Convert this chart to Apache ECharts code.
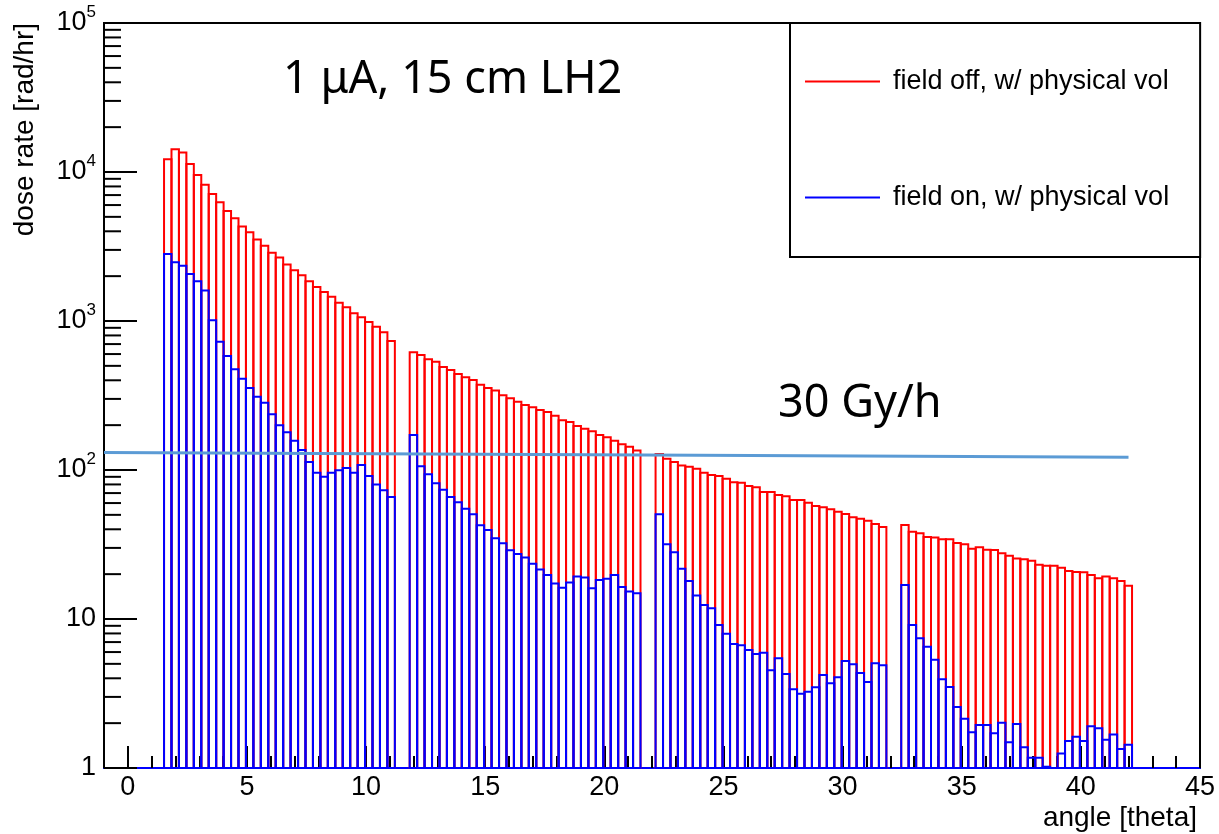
<!DOCTYPE html>
<html>
<head>
<meta charset="utf-8">
<script src="https://cdn.jsdelivr.net/npm/echarts@6/dist/echarts.min.js"></script>
<style>html,body{margin:0;padding:0;background:#fff}#chart{width:1219px;height:834px}</style>
</head>
<body>
<div id="chart"></div>
<script>
// ---- data ----
const binWidth = 0.3125;                       // histogram bin width [deg]
const groupStarts = [1.52, 11.83, 22.15, 32.46]; // first bin lower edge of each angular block

const fieldOff1 = [12200,14200,13500,11300,9540,8220,7120,6260,5470,4890,4300,3940,3530,3200,2870,2670,2390,2190,2025,1845,1690,1565,1456,1327,1236,1127,1059,985,916,840,734];
const fieldOff2 = [617,591,553,533,491,469,441,419,402,374,355,341,317,303,287,273,264,253,245,231,216,210,197,189,182,172,166,157,149,143,135];
const fieldOff3 = [128,119,113,107,105,102,96,92.5,91.2,87.5,82.7,82.2,78.1,76.6,71.2,71.2,68.0,66.6,62.9,62.9,60.4,57.3,56.2,54.5,52.5,50.7,48.1,47.1,45.7,43.4,41.4];
const fieldOff4 = [42.7,38.5,37.6,35.5,35.3,34.3,34.3,32.4,31.7,29.6,30.3,29.2,29.0,27.6,26.6,25.5,25.2,24.6,23.1,22.8,22.8,22.1,21.0,20.7,20.6,19.7,18.8,19.3,18.8,18.0,16.7];

const fieldOn1 = [2820,2480,2350,2070,1845,1600,1010,726,582,474,410,355,310,283,237,200,179,157,136,113,96,90,96,99.5,103,96,108,91,80,73,66];
const fieldOn2 = [172,106,93.6,81.4,73.8,65.9,60.7,55.0,50.4,42.5,39.6,34.8,32.2,28.9,27.3,25.9,23.5,21.5,19.7,17.3,16.2,17.6,19.3,19.0,16.1,18.3,18.6,19.7,16.4,15.3,14.9];
const fieldOn3 = [50.4,31.7,28.0,21.7,18.0,14.4,12.4,11.8,9.12,7.97,6.79,6.66,6.19,5.82,5.94,4.53,5.45,4.27,3.38,3.15,3.25,3.48,4.21,3.70,4.06,5.23,4.97,4.34,3.78,5.04,4.89];
const fieldOn4 = [16.9,9.12,7.42,6.52,5.33,3.94,3.50,2.57,2.14,1.74,1.94,1.94,1.71,2.01,1.49,1.97,1.38,1.17,1.17,1.02,1,1.25,1.52,1.62,1.52,1.91,1.85,1.55,1.68,1.34,1.43];

const limitLineX = [-1, 42];      // 30 Gy/h reference line
const limitLineY = [131, 122];

const xMajorTicks = [0,5,10,15,20,25,30,35,40,45];
const yDecades = [1,10,100,1000,10000];
const yMinorMultipliers = [2,3,4,5,6,7,8,9];

const nameOff = 'field off, w/ physical vol';
const nameOn = 'field on, w/ physical vol';

// ---- build ----
const FONT = 'Liberation Sans';
function histData(groups) {
  const out = [];
  groups.forEach((vals, g) => vals.forEach((v, i) => {
    const x0 = groupStarts[g] + i * binWidth;
    out.push([x0, x0 + binWidth, v]);
  }));
  return out;
}
function histSeries(name, color, groups, z) {
  return {
    type: 'custom', name: name, z: z, silent: true,
    data: histData(groups),
    encode: { x: [0, 1], y: 2 },
    itemStyle: { color: color },
    renderItem: function (params, api) {
      const a = api.coord([api.value(0), api.value(2)]);
      const b = api.coord([api.value(1), 1]);
      return { type: 'rect',
        shape: { x: a[0], y: a[1], width: b[0] - a[0], height: b[1] - a[1] },
        style: { fill: 'none', stroke: color, lineWidth: 2 } };
    }
  };
}
const minorTicks = [];
yDecades.forEach(d => yMinorMultipliers.forEach(m => minorTicks.push([-1, d * m])));

const chart = echarts.init(document.getElementById('chart'), null, { renderer: 'canvas' });
chart.setOption({
  animation: false,
  backgroundColor: '#fff',
  grid: { left: 104, right: 19, top: 23, bottom: 66, show: true, borderColor: '#000', borderWidth: 2,
          backgroundColor: 'transparent', containLabel: false, outerBoundsMode: 'none' },
  xAxis: [
    { type: 'value', position: 'bottom', min: -1, max: 45, interval: 1,
      axisLine: { show: true, onZero: false, lineStyle: { color: '#0000ff', width: 2 } },
      axisTick: { show: true, inside: true, length: 12, lineStyle: { color: '#000', width: 2 } },
      axisLabel: { fontSize: 27, fontFamily: FONT, color: '#000', margin: 6,
        formatter: v => (xMajorTicks.indexOf(v) >= 0 ? String(v) : '') },
      splitLine: { show: false },
      name: 'angle [theta]', nameLocation: 'end', nameGap: -3, nameMoveOverlap: false,
      nameTextStyle: { fontSize: 28, fontFamily: FONT, color: '#000', align: 'right', verticalAlign: 'top', padding: [36, 0, 0, 0] }
    },
    { type: 'value', position: 'bottom', min: -1, max: 45,
      axisLine: { show: false, onZero: false },
      axisTick: { show: true, inside: true, length: 22, customValues: xMajorTicks, lineStyle: { color: '#000', width: 2 } },
      axisLabel: { show: false }, splitLine: { show: false }
    }
  ],
  yAxis: {
    type: 'log', logBase: 10, min: 1, max: 100000, position: 'left',
    axisLine: { show: true, onZero: false, lineStyle: { color: '#000', width: 2 } },
    axisTick: { show: true, inside: true, length: 33, lineStyle: { color: '#000', width: 2 } },
    splitLine: { show: false },
    axisLabel: { fontSize: 27, fontFamily: FONT, color: '#000', margin: 8,
      formatter: function (v) {
        const e = Math.round(Math.log10(v));
        if (e <= 1) return '{b|' + Math.round(v) + '}';
        return '{b|10}{s|' + e + '}';
      },
      rich: {
        b: { fontSize: 27, fontFamily: FONT, color: '#000', verticalAlign: 'bottom', lineHeight: 27 },
        s: { fontSize: 17, fontFamily: FONT, color: '#000', verticalAlign: 'bottom', lineHeight: 17, padding: [0, 0, 16, 0] }
      }
    },
    name: 'dose rate [rad/hr]', nameLocation: 'end', nameGap: 0, nameRotate: 90, nameMoveOverlap: false,
    nameTextStyle: { fontSize: 28, fontFamily: FONT, color: '#000', align: 'right', verticalAlign: 'bottom', padding: [0, 0, 65, 0] }
  },
  legend: {
    orient: 'vertical', left: 790, top: 23, selectedMode: false,
    data: [ { name: nameOff, icon: 'rect', itemStyle: { color: '#ff0000' } },
            { name: nameOn, icon: 'rect', itemStyle: { color: '#0000ff' } } ],
    itemWidth: 75, itemHeight: 2, itemGap: 89,
    padding: [45, 31, 46, 15],
    backgroundColor: '#fff', borderColor: '#000', borderWidth: 2, borderRadius: 0,
    textStyle: { fontSize: 27, fontFamily: FONT, color: '#000', padding: [0, 0, 0, 8] }
  },
  graphic: [
    { type: 'text', x: 283, y: 80, z: 10,
      style: { text: '1 μA, 15 cm LH2', font: '45px "Noto Sans"', fill: '#000', verticalAlign: 'middle' } },
    { type: 'text', x: 778, y: 404, z: 10,
      style: { text: '30 Gy/h', font: '45px "Noto Sans"', fill: '#000', verticalAlign: 'middle' } }
  ],
  series: [
    histSeries(nameOff, '#ff0000', [fieldOff1, fieldOff2, fieldOff3, fieldOff4], 2),
    histSeries(nameOn, '#0000ff', [fieldOn1, fieldOn2, fieldOn3, fieldOn4], 3),
    { type: 'custom', name: 'minorTicks', z: 4, silent: true, data: minorTicks,
      renderItem: function (params, api) {
        const p = api.coord([api.value(0), api.value(1)]);
        return { type: 'line', shape: { x1: p[0], y1: p[1], x2: p[0] + 17, y2: p[1] },
                 style: { stroke: '#000', lineWidth: 2 } };
      } },
    { type: 'line', name: '30 Gy/h', z: 6, silent: true, symbol: 'none',
      data: limitLineX.map((x, i) => [x, limitLineY[i]]),
      lineStyle: { color: '#5B9BD5', width: 3 } }
  ]
});
</script>
</body>
</html>
